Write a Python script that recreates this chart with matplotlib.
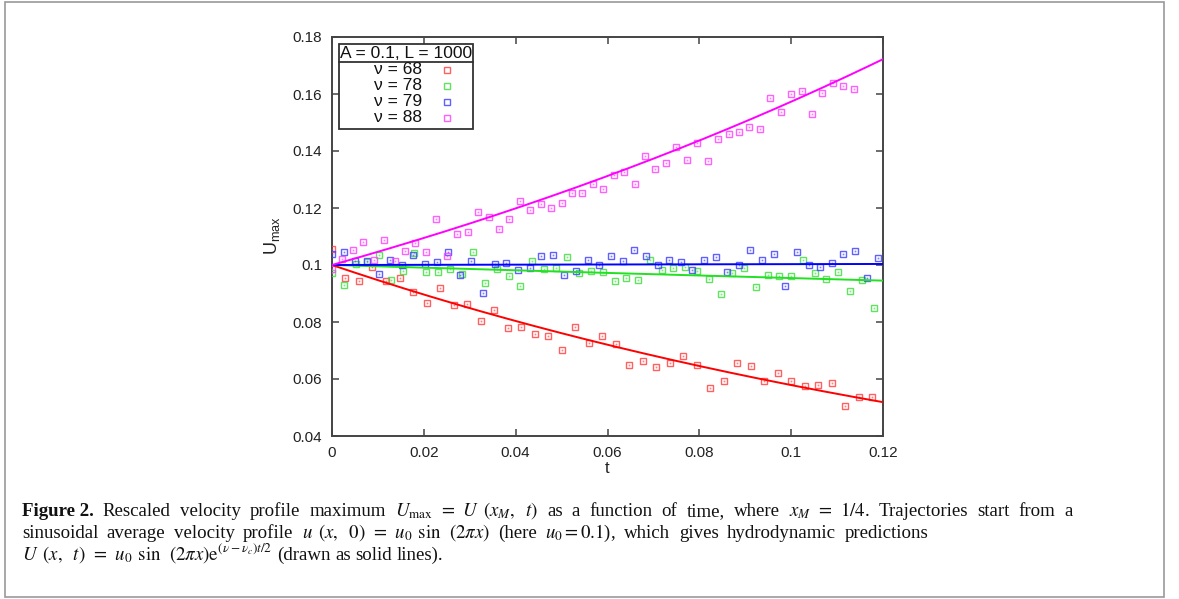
import matplotlib
matplotlib.use('Agg')
import matplotlib.pyplot as plt
import numpy as np
from matplotlib.patches import Rectangle
from matplotlib.lines import Line2D

# ---------------- data ----------------
t_68 = [0, 0.00294, 0.00588, 0.00882, 0.01176, 0.01471, 0.01765, 0.02059, 0.02353, 0.02647,
        0.02941, 0.03235, 0.03529, 0.03824, 0.04118, 0.04412, 0.04706, 0.05, 0.05294, 0.05588,
        0.05882, 0.06176, 0.06471, 0.06765, 0.07059, 0.07353, 0.07647, 0.07941, 0.08235, 0.08529,
        0.08824, 0.09118, 0.09412, 0.09706, 0.1, 0.10294, 0.10588, 0.10882, 0.11176, 0.11471, 0.11765]
u_68 = [0.1055, 0.0954, 0.0943, 0.0992, 0.0945, 0.0954, 0.0904, 0.0867, 0.0919, 0.0861,
        0.0862, 0.0805, 0.0841, 0.0780, 0.0782, 0.0758, 0.0750, 0.0703, 0.0782, 0.0725,
        0.0752, 0.0724, 0.0650, 0.0663, 0.0643, 0.0656, 0.0682, 0.0650, 0.0568, 0.0594,
        0.0655, 0.0647, 0.0593, 0.0622, 0.0594, 0.0575, 0.0578, 0.0585, 0.0505, 0.0537, 0.0536]

t_78 = [0, 0.00256, 0.00513, 0.00769, 0.01026, 0.01282, 0.01538, 0.01795, 0.02051, 0.02308,
        0.02564, 0.02821, 0.03077, 0.03333, 0.03590, 0.03846, 0.04103, 0.04359, 0.04615, 0.04872,
        0.05128, 0.05385, 0.05641, 0.05897, 0.06154, 0.06410, 0.06667, 0.06923, 0.07179, 0.07436,
        0.07692, 0.07949, 0.08205, 0.08462, 0.08718, 0.08974, 0.09231, 0.09487, 0.09744, 0.1,
        0.10256, 0.10513, 0.10769, 0.11026, 0.11282, 0.11538, 0.11795]
u_78 = [0.0972, 0.0929, 0.1005, 0.1010, 0.1036, 0.0949, 0.0978, 0.1042, 0.0974, 0.0974,
        0.0987, 0.0970, 0.1045, 0.0937, 0.0987, 0.0961, 0.0925, 0.1013, 0.0986, 0.0988,
        0.1027, 0.0971, 0.0980, 0.0977, 0.0943, 0.0954, 0.0947, 0.1018, 0.0982, 0.0989,
        0.0992, 0.0980, 0.0950, 0.0899, 0.0972, 0.0988, 0.0924, 0.0966, 0.0960, 0.0961,
        0.1018, 0.0972, 0.0950, 0.0977, 0.0909, 0.0946, 0.0850]

t_79 = [0, 0.00253, 0.00506, 0.00759, 0.01013, 0.01266, 0.01519, 0.01772, 0.02025, 0.02278,
        0.02532, 0.02785, 0.03038, 0.03291, 0.03544, 0.03797, 0.04051, 0.04304, 0.04557, 0.04810,
        0.05063, 0.05316, 0.05570, 0.05823, 0.06076, 0.06329, 0.06582, 0.06835, 0.07089, 0.07342,
        0.07595, 0.07848, 0.08101, 0.08354, 0.08608, 0.08861, 0.09114, 0.09367, 0.09620, 0.09873,
        0.10127, 0.10380, 0.10633, 0.10886, 0.11139, 0.11392, 0.11646, 0.11899]
u_79 = [0.1037, 0.1046, 0.1013, 0.1013, 0.0968, 0.1019, 0.1001, 0.1036, 0.1004, 0.1011,
        0.1046, 0.0966, 0.1013, 0.0902, 0.1004, 0.1008, 0.0984, 0.0989, 0.1030, 0.1036,
        0.0966, 0.0978, 0.1016, 0.1001, 0.1032, 0.1013, 0.1052, 0.1030, 0.1001, 0.1016,
        0.1011, 0.0984, 0.1016, 0.1028, 0.0975, 0.0999, 0.1052, 0.1019, 0.1040, 0.0926,
        0.1046, 0.1001, 0.0992, 0.1008, 0.1039, 0.1048, 0.0955, 0.1025]

t_88 = [0, 0.00227, 0.00455, 0.00682, 0.00909, 0.01136, 0.01364, 0.01591, 0.01818, 0.02045,
        0.02273, 0.025, 0.02727, 0.02955, 0.03182, 0.03409, 0.03636, 0.03864, 0.04091, 0.04318,
        0.04545, 0.04773, 0.05, 0.05227, 0.05455, 0.05682, 0.05909, 0.06136, 0.06364, 0.06591,
        0.06818, 0.07045, 0.07273, 0.075, 0.07727, 0.07955, 0.08182, 0.08409, 0.08636, 0.08864,
        0.09091, 0.09318, 0.09545, 0.09773, 0.1, 0.10227, 0.10455, 0.10682, 0.10909, 0.11136, 0.11364]
u_88 = [0.0985, 0.1022, 0.1052, 0.1081, 0.1016, 0.1087, 0.1015, 0.1048, 0.1076, 0.1046,
        0.1162, 0.1033, 0.1109, 0.1116, 0.1185, 0.1169, 0.1125, 0.1160, 0.1225, 0.1192,
        0.1215, 0.1201, 0.1216, 0.1252, 0.1252, 0.1285, 0.1266, 0.1316, 0.1326, 0.1284,
        0.1382, 0.1338, 0.1357, 0.1413, 0.1368, 0.1427, 0.1365, 0.1443, 0.1459, 0.1468,
        0.1485, 0.1476, 0.1586, 0.1536, 0.1600, 0.1612, 0.1529, 0.1605, 0.1638, 0.1628, 0.1617]

nus = [68, 78, 79, 88]
nu_c = 78.94
u0 = 0.1
legend_title = "A = 0.1, L = 1000"
legend_labels = ["\u03bd = 68", "\u03bd = 78", "\u03bd = 79", "\u03bd = 88"]
xticks = [0, 0.02, 0.04, 0.06, 0.08, 0.1, 0.12]
xticklabels = ["0", "0.02", "0.04", "0.06", "0.08", "0.1", "0.12"]
yticks = [0.04, 0.06, 0.08, 0.1, 0.12, 0.14, 0.16, 0.18]
yticklabels = ["0.04", "0.06", "0.08", "0.1", "0.12", "0.14", "0.16", "0.18"]

caption_lines = [
    [("Figure 2.", "bold"), ("Rescaled", ""), ("velocity", ""), ("profile", ""), ("maximum", ""),
     (r"$U_{\max}\;\,=\;\,U\ \,(x_M,\ \;t)$", ""), ("as", ""), ("a", ""), ("function", ""), ("of", ""),
     ("time,", ""), ("where", ""), (r"$x_M\;\,=\;\,1/4$.", ""), ("Trajectories", ""), ("start", ""),
     ("from", ""), ("a", "")],
    [("sinusoidal", ""), ("average", ""), ("velocity", ""), ("profile", ""),
     (r"$u\ \,(x,\ \;0)\;\,=\;\,u_0\;\,\sin\ \,(2\pi x)$", ""), ("(here", ""), (r"$u_0 = 0.1$),", ""),
     ("which", ""), ("gives", ""), ("hydrodynamic", ""), ("predictions", "")],
    [(r"$U\ \,(x,\ \;t)\;\,=\;\,u_0\;\,\sin\ \,(2\pi x)\mathrm{e}^{(\nu-\nu_c)t/2}$", ""), ("(drawn", ""),
     ("as", ""), ("solid", ""), ("lines).", "")],
]
caption_ends = [1073, 928, None]

# ---------------- figure ----------------
plt.rcParams['mathtext.fontset'] = 'stix'
plt.rcParams['mathtext.sf'] = 'Liberation Sans'
W, H = 1179, 599
fig = plt.figure(figsize=(W / 100, H / 100), dpi=100)

L, R, T, B = 332, 883, 37, 436
ax = fig.add_axes([L / W, 1 - B / H, (R - L) / W, (B - T) / H])

line_cols = ['#ff0000', '#22e022', '#0000ff', '#ff00ff']
mark_cols = ['#ff4444', '#44e044', '#4444ff', '#ff44ff']
series = [(t_68, u_68), (t_78, u_78), (t_79, u_79), (t_88, u_88)]

t_line = np.linspace(0, 0.12, 300)
for (tt, uu), mc in zip(series, mark_cols):
    ax.plot(tt, uu, ls='none', marker='s', ms=4.8, mfc='none', mec=mc, mew=1.0, alpha=0.85, zorder=3)
    ax.plot(tt, uu, ls='none', marker='s', ms=0.9, mfc=mc, mec=mc, mew=0.3, alpha=0.6, zorder=3)
for nu, lc in zip(nus, line_cols):
    ax.plot(t_line, u0 * np.exp((nu - nu_c) * t_line / 2), color=lc, lw=1.4, zorder=4)

ax.set_xlim(0, 0.12)
ax.set_ylim(0.04, 0.18)
ax.set_xticks(xticks)
ax.set_xticklabels(xticklabels)
ax.set_yticks(yticks)
ax.set_yticklabels(yticklabels)
for lab in ax.get_xticklabels() + ax.get_yticklabels():
    lab.set_fontfamily('Liberation Sans')
    lab.set_fontsize(11)
    lab.set_color('#222222')
ax.tick_params(direction='in', length=5, width=1.1, color='#444444', top=True, right=True, pad=7)
for s in ax.spines.values():
    s.set_color('#444444')
    s.set_linewidth(1.4)

ax.set_xlabel('t', fontfamily='Liberation Sans', fontsize=12, color='#222222', labelpad=1)
fig.text(272 / W, 1 - 236 / H, r'$\mathsf{U}_{\mathsf{max}}$', rotation=90, ha='center', va='center',
         fontsize=13, math_fontfamily='custom', color='#222222')

# ---------------- key (gnuplot style) ----------------
def ax_x(px):
    return (px - L) / (R - L)

def ax_y(py):
    return (B - py) / (B - T)

box = Rectangle((ax_x(339), ax_y(129)), ax_x(473) - ax_x(339), ax_y(43.5) - ax_y(129),
                transform=ax.transAxes, fill=True, facecolor='white', edgecolor='#333333', lw=1.3, zorder=6)
ax.add_patch(box)
ax.add_line(Line2D([ax_x(339), ax_x(473)], [ax_y(62), ax_y(62)], transform=ax.transAxes,
                   color='#333333', lw=1.3, zorder=7))
ax.text(ax_x(406), ax_y(53), legend_title, transform=ax.transAxes, ha='center', va='center',
        fontfamily='Liberation Sans', fontsize=12.5, color='#111111', zorder=7)
rows = [69.5, 85.5, 101.5, 117.5]
for lab, mc, ry in zip(legend_labels, mark_cols, rows):
    ax.text(ax_x(422), ax_y(ry), lab, transform=ax.transAxes, ha='right', va='center',
            fontfamily='Liberation Sans', fontsize=12.5, color='#111111', zorder=7)
    ax.plot([ax_x(447)], [ax_y(ry)], transform=ax.transAxes, ls='none', marker='s', ms=4.8,
            mfc='none', mec=mc, mew=1.0, alpha=0.85, zorder=7)

# ---------------- outer frame ----------------
fig.patches.append(Rectangle((5 / W, 1 - 597 / H), (1164 - 5) / W, (597 - 2) / H,
                             transform=fig.transFigure, fill=False, edgecolor='#999999', lw=1.2))

# ---------------- caption ----------------
cap_size = 13.6
cap_kw = dict(fontfamily='Liberation Serif', fontsize=cap_size, color='#111111')
renderer = fig.canvas.get_renderer()
space_px = 0.25 * cap_size * 100 / 72

def place_line(tokens, x0, x1, y):
    objs = []
    for txt, weight in tokens:
        kw = dict(cap_kw)
        if weight:
            kw['fontweight'] = weight
        objs.append(fig.text(0, 1 - y / H, txt, ha='left', va='baseline', **kw))
    widths = [o.get_window_extent(renderer=renderer).width for o in objs]
    gap = space_px
    if x1 is not None:
        gap = (x1 - x0 - sum(widths)) / (len(objs) - 1)
        gap = min(max(gap, space_px * 0.8), space_px * 2.2)
    x = x0
    for o, w in zip(objs, widths):
        o.set_x(x / W)
        x += w + gap

for toks, xend, yb in zip(caption_lines, caption_ends, [516, 538, 560]):
    place_line(toks, 22, xend, yb)

fig.savefig('out.png', dpi=100)
